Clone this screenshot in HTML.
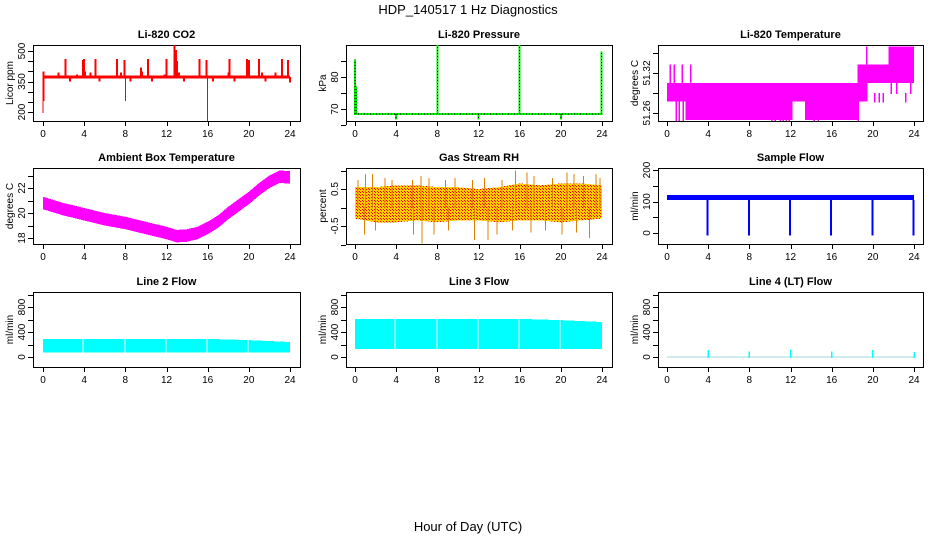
<!DOCTYPE html>
<html><head><meta charset="utf-8">
<style>
html,body{margin:0;padding:0;background:#fff;}
svg{display:block;font-family:"Liberation Sans",Arial,sans-serif;}
</style></head>
<body>
<svg id="chart" width="936" height="540" viewBox="0 0 936 540" xmlns="http://www.w3.org/2000/svg">
<defs>
<pattern id="rhpat" width="3" height="3" patternUnits="userSpaceOnUse">
<rect width="3" height="3" fill="#ffcc00"/><rect width="1" height="1" fill="#ff0000"/><rect x="2" y="2" width="1" height="1" fill="#ff0000"/>
</pattern>
</defs>
<text x="468" y="14" text-anchor="middle" font-size="13">HDP_140517  1 Hz Diagnostics</text>
<text x="468" y="531" text-anchor="middle" font-size="13">Hour of Day (UTC)</text>
</svg>
<script>
// ---- data ----
const xTicks = [0,4,8,12,16,20,24];
const co2Base = [365,380];
const co2SpikeHours = [0.0,0.05,0.1,1.5,2.2,2.6,3.3,3.9,4.0,4.1,4.6,5.1,5.5,6.2,7.2,7.6,7.9,8.0,8.1,8.5,9.0,9.5,9.6,10.2,10.6,11.2,11.8,12.0,12.8,12.9,13.0,13.2,13.7,14.3,15.2,15.9,16.0,16.2,16.5,17.2,18.0,18.1,18.6,19.3,19.8,20.0,20.4,21.0,21.3,21.6,22.6,23.2,23.8,24.0];
const co2SpikeValues = [200,400,260,395,460,355,385,455,460,400,395,460,355,380,460,395,455,260,380,355,380,420,400,460,355,375,385,460,530,505,450,395,355,380,460,455,160,380,355,375,395,460,355,380,460,455,380,460,395,355,395,460,455,350];
const presBase = 68.5;
const presSpikeHours = [0.0,0.1,4.0,8.0,12.0,16.0,20.0,23.95];
const presSpikeValues = [85.5,77,67,90,67,90,67,88];
const tempSegHours = [0,0.6,1.8,10,12.2,13.4,15,18.5,19.5,21.5,24];
const tempSegLo = [51.277,51.277,51.2495,51.2495,51.277,51.2495,51.2495,51.277,51.305,51.305];
const tempSegHi = [51.305,51.305,51.305,51.305,51.305,51.305,51.305,51.333,51.333,51.36];
const tempSpikeHours = [0.3,0.7,1.5,2.3,0.9,1.2,1.6,10.2,10.5,11.0,11.3,11.6,11.9,14.3,14.7,18.6,19.4,20.2,20.6,21.0,21.8,22.3,23.2,23.7];
const tempSpikeValues = [51.333,51.333,51.333,51.333,51.2495,51.2495,51.2495,51.2495,51.2495,51.2495,51.2495,51.2495,51.2495,51.2495,51.2495,51.2495,51.36,51.277,51.277,51.277,51.36,51.36,51.277,51.36];
const ambHours = [0,2,4,6,8,10,12,13,14,15,16,17,18,19,20,21,22,23,24];
const ambCenter = [20.8,20.3,19.9,19.5,19.2,18.8,18.4,18.15,18.2,18.4,18.8,19.3,20.0,20.6,21.2,21.9,22.5,22.9,22.85];
const ambHalfWidth = 0.5;
const rhHours = [0,2,4,6,8,10,12,14,16,18,20,22,24];
const rhTop = [0.55,0.55,0.6,0.6,0.55,0.55,0.5,0.55,0.65,0.6,0.65,0.65,0.6];
const rhBottom = [-0.3,-0.4,-0.4,-0.35,-0.4,-0.35,-0.35,-0.4,-0.35,-0.35,-0.4,-0.35,-0.3];
const rhSpikeHours = [0.3,1.0,1.7,2.9,3.6,5.6,6.4,7.2,8.8,9.7,11.4,12.6,14.3,15.6,16.7,17.4,19.2,20.6,21.3,22.2,23.4,23.8,0.9,2.0,5.7,6.5,7.7,9.1,11.6,12.9,13.8,15.3,17.1,18.5,20.1,21.5,22.8];
const rhSpikeValues = [0.75,0.9,0.9,0.8,0.75,0.75,0.85,0.8,0.75,0.8,0.75,0.8,0.75,1.0,0.95,0.85,0.8,0.95,0.9,0.85,0.9,0.8,-0.7,-0.6,-0.7,-0.95,-0.7,-0.6,-0.85,-0.85,-0.7,-0.6,-0.65,-0.6,-0.7,-0.65,-0.8];
const sfBand = [105,120];
const sfDipHours = [4,8,12,16,20,24];
const sfDipValues = [-5,-5,-5,-5,-5,-5];
const l2Hours = [0,4,8,12,16,20,24];
const l2Top = [290,290,290,290,290,270,240];
const l2Bottom = [70,70,70,70,70,70,70];
const l3Top = [610,610,610,610,610,590,560];
const l3Bottom = [130,130,130,130,130,130,130];
const gapHours = [3.85,7.9,11.9,15.9,19.85];
const l4SpikeHours = [4,8,12,16,20,24];
const l4SpikeValues = [110,90,120,90,110,80];

// ---- layout ----
const svg = document.getElementById('chart');
const NS = 'http://www.w3.org/2000/svg';
const cols = [{l:33,r:300,xa:43,xb:290},{l:346,r:612,xa:355,xb:602},{l:658,r:923,xa:667,xb:914}];
const rows = [{t:45,b:121},{t:168,b:244},{t:292,b:367}];
function mk(tag, attrs, parent){const e=document.createElementNS(NS,tag);for(const k in attrs)e.setAttribute(k,attrs[k]);(parent||svg).appendChild(e);return e;}

function panel(ci, ri, title, ylab, v1, p1, v2, p2, ticks, labels, name){
  const c=cols[ci], r=rows[ri];
  const g=mk('g',{});
  
  
  const X=h=>c.xa+(c.xb-c.xa)*h/24;
  const Y=v=>p1+(v-v1)*(p2-p1)/(v2-v1);
  const t=mk('text',{x:(c.l+c.r)/2,y:r.t-7,'text-anchor':'middle','font-size':'11','font-weight':'bold'},g);
  t.textContent=title;
  
  
  const box=mk('rect',{x:c.l+0.5,y:r.t+0.5,width:c.r-c.l,height:r.b-r.t,fill:'none',stroke:'#000','stroke-width':1},g);
  
  
  const xa=mk('g',{},g);
  
  
  mk('line',{x1:X(0),x2:X(24),y1:r.b+0.5,y2:r.b+0.5,stroke:'#000'},xa);
  xTicks.forEach(h=>{mk('line',{x1:Math.round(X(h))+0.5,x2:Math.round(X(h))+0.5,y1:r.b,y2:r.b+5,stroke:'#000'},xa);
    const tl=mk('text',{x:X(h),y:r.b+16,'text-anchor':'middle','font-size':'10'},xa);tl.textContent=h;});
  const ya=mk('g',{},g);
  
  
  mk('line',{x1:c.l+0.5,x2:c.l+0.5,y1:Y(ticks[0]),y2:Y(ticks[ticks.length-1]),stroke:'#000'},ya);
  ticks.forEach(v=>{const y=Math.round(Y(v))+0.5;mk('line',{x1:c.l-5,x2:c.l,y1:y,y2:y,stroke:'#000'},ya);});
  labels.forEach(v=>{const y=Y(v);const tl=mk('text',{x:0,y:0,'text-anchor':'middle','font-size':'10',transform:`translate(${c.l-8},${y}) rotate(-90)`},ya);tl.textContent=v;});
  const yt=mk('text',{x:0,y:0,'text-anchor':'middle','font-size':'10',transform:`translate(${c.l-20},${(r.t+r.b)/2}) rotate(-90)`},g);
  yt.textContent=ylab;
  
  
  const d=mk('g',{'shape-rendering':'crispEdges'},g);
  
  
  return {X,Y,d};
}
function vline(p,h,v0,v1,col,w){mk('rect',{x:p.X(h)-(w||1)/2,y:Math.min(p.Y(v0),p.Y(v1)),width:w||1,height:Math.abs(p.Y(v1)-p.Y(v0))+1,fill:col},p.d);}
function band(p,hours,tops,bots,fill){
  let s='';hours.forEach((h,i)=>{s+=(i?'L':'M')+p.X(h)+','+p.Y(tops[i]);});
  for(let i=hours.length-1;i>=0;i--)s+='L'+p.X(hours[i])+','+p.Y(bots[i]);
  mk('path',{d:s+'Z',fill:fill},p.d);
}

// CO2
let p=panel(0,0,'Li-820 CO2','Licor ppm',200,112,500,51,[200,250,300,350,400,450,500],[200,350,500],'co2');
band(p,[0,24],[co2Base[1],co2Base[1]],[co2Base[0],co2Base[0]],'#ff0000');
co2SpikeHours.forEach((h,i)=>vline(p,h,372,co2SpikeValues[i],'#ff0000',co2SpikeValues[i]<300?1:2));

// Pressure
p=panel(1,0,'Li-820 Pressure','kPa',70,109,80,77,[65,70,75,80,85],[70,80],'pressure');
band(p,[0,24],[presBase+0.3,presBase+0.3],[presBase-0.3,presBase-0.3],'#00ee00');
mk('line',{x1:p.X(0),x2:p.X(24),y1:p.Y(presBase),y2:p.Y(presBase),stroke:'#000','stroke-dasharray':'1,2'},p.d);
presSpikeHours.forEach((h,i)=>{vline(p,h,presBase,presSpikeValues[i],'#00ee00',2);
  mk('line',{x1:p.X(h),x2:p.X(h),y1:p.Y(presBase),y2:p.Y(presSpikeValues[i]),stroke:'#000','stroke-dasharray':'1,2'},p.d);});

// Temperature
p=panel(2,0,'Li-820 Temperature','degrees C',51.26,113,51.32,73,[51.26,51.29,51.32,51.35],[51.26,51.32],'li820-temperature');
for(let i=0;i<tempSegLo.length;i++){mk('rect',{x:p.X(tempSegHours[i]),y:p.Y(tempSegHi[i]),width:p.X(tempSegHours[i+1])-p.X(tempSegHours[i]),height:p.Y(tempSegLo[i])-p.Y(tempSegHi[i]),fill:'#ff00ff'},p.d);}
tempSpikeHours.forEach((h,i)=>vline(p,h,51.29,tempSpikeValues[i],'#ff00ff',1.5));

// Ambient
p=panel(0,1,'Ambient Box Temperature','degrees C',22,188,18,238,[18,19,20,21,22,23],[18,20,22],'ambient-temperature');
band(p,ambHours,ambCenter.map(v=>v+ambHalfWidth),ambCenter.map(v=>v-ambHalfWidth),'#ff00ff');

// RH
p=panel(1,1,'Gas Stream RH','percent',0.5,189,-0.5,226,[-1,-0.5,0,0.5,1],[-0.5,0.5],'gas-stream-rh');
band(p,rhHours,rhTop,rhBottom,'url(#rhpat)');
rhSpikeHours.forEach((h,i)=>vline(p,h,0,rhSpikeValues[i],'#e08000',1));

// Sample flow
p=panel(2,1,'Sample Flow','ml/min',200,170,0,233,[0,50,100,150,200],[0,100,200],'sample-flow');
band(p,[0,24],[sfBand[1],sfBand[1]],[sfBand[0],sfBand[0]],'#0000ff');
sfDipHours.forEach((h,i)=>vline(p,h-0.05,sfBand[0],sfDipValues[i],'#0000ff',2));

// Line 2
p=panel(0,2,'Line 2 Flow','ml/min',800,307,0,357,[0,200,400,600,800,1000],[0,400,800],'line-2-flow');
band(p,l2Hours,l2Top,l2Bottom,'#00ffff');
gapHours.forEach(h=>mk('rect',{x:p.X(h),y:p.Y(1000),width:1,height:p.Y(0)-p.Y(1000),fill:'#fff'},p.d));

// Line 3
p=panel(1,2,'Line 3 Flow','ml/min',800,307,0,357,[0,200,400,600,800,1000],[0,400,800],'line-3-flow');
band(p,l2Hours,l3Top,l3Bottom,'#00ffff');
gapHours.forEach(h=>mk('rect',{x:p.X(h),y:p.Y(1000),width:1,height:p.Y(0)-p.Y(1000),fill:'#fff'},p.d));

// Line 4
p=panel(2,2,'Line 4 (LT) Flow','ml/min',800,307,0,357,[0,200,400,600,800,1000],[0,400,800],'line-4-flow');
mk('rect',{x:p.X(0),y:p.Y(0)-0.5,width:p.X(24)-p.X(0),height:1,fill:'#a0d8d8'},p.d);
l4SpikeHours.forEach((h,i)=>vline(p,h,0,l4SpikeValues[i],'#00ffff',1.5));
</script>
</body></html>
